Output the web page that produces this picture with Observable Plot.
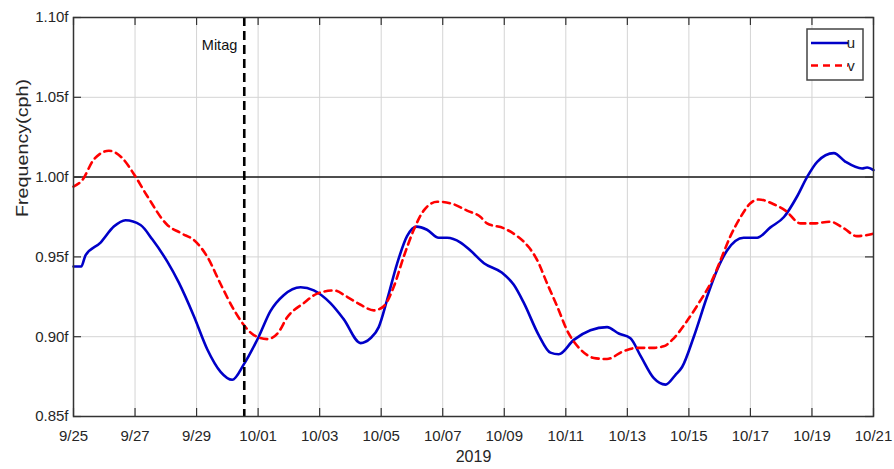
<!DOCTYPE html>
<html>
<head>
<meta charset="utf-8">
<script src="https://cdn.jsdelivr.net/npm/d3@7"></script>
<script src="https://cdn.jsdelivr.net/npm/@observablehq/plot@0.6"></script>
<style>
  html, body { margin: 0; padding: 0; background: #fff; }
  #chart { position: relative; width: 894px; height: 469px; }
</style>
</head>
<body>
<div id="chart"></div>
<script>
// Days since 2019-09-25 00:00 and frequency (in units of f)
const uDay = [0, 0.25, 0.39, 0.88, 1.31, 1.69, 2.18, 2.56, 3.05, 3.42, 3.91, 4.35, 4.78, 5.16, 5.53, 6.02, 6.40, 6.83, 7.38, 7.81, 8.35, 8.78, 9.33, 9.65, 9.92, 10.19, 10.52, 10.84, 11.15, 11.49, 11.87, 12.14, 12.58, 12.90, 13.34, 13.93, 14.31, 14.64, 15.12, 15.50, 15.77, 16.26, 16.80, 17.34, 17.72, 18.10, 18.43, 18.86, 19.24, 19.56, 19.78, 20.16, 20.59, 20.92, 21.24, 21.78, 22.22, 22.65, 23.09, 23.52, 23.84, 24.17, 24.71, 25.09, 25.63, 25.79, 26.0];
const uVal = [0.944, 0.944, 0.951, 0.959, 0.969, 0.973, 0.970, 0.961, 0.947, 0.934, 0.913, 0.892, 0.878, 0.873, 0.8825, 0.900, 0.916, 0.926, 0.931, 0.929, 0.921, 0.911, 0.896, 0.899, 0.906, 0.923, 0.946, 0.963, 0.969, 0.967, 0.962, 0.962, 0.959, 0.954, 0.946, 0.940, 0.9325, 0.921, 0.901, 0.890, 0.889, 0.898, 0.904, 0.906, 0.902, 0.899, 0.888, 0.874, 0.870, 0.876, 0.881, 0.900, 0.925, 0.942, 0.954, 0.962, 0.962, 0.9685, 0.975, 0.988, 1.000, 1.0096, 1.015, 1.0096, 1.0054, 1.006, 1.0044];
const vDay = [0, 0.28, 0.66, 1.15, 1.58, 1.96, 2.40, 3.05, 3.48, 3.97, 4.35, 4.78, 5.21, 5.53, 5.86, 6.30, 6.67, 6.94, 7.48, 7.92, 8.46, 8.89, 9.33, 9.76, 10.08, 10.41, 10.73, 11.06, 11.38, 11.82, 12.25, 12.79, 13.23, 13.44, 13.98, 14.42, 14.80, 15.07, 15.40, 15.72, 16.04, 16.48, 16.91, 17.34, 17.88, 18.32, 18.81, 19.18, 19.51, 19.89, 20.32, 20.76, 21.03, 21.35, 21.68, 22.00, 22.27, 22.76, 23.14, 23.63, 24.06, 24.60, 25.03, 25.46, 25.96];
const vVal = [0.994, 0.998, 1.011, 1.0165, 1.012, 1.002, 0.988, 0.970, 0.965, 0.9596, 0.950, 0.933, 0.917, 0.9075, 0.901, 0.8985, 0.903, 0.912, 0.921, 0.927, 0.929, 0.925, 0.920, 0.9165, 0.919, 0.9314, 0.950, 0.967, 0.979, 0.9846, 0.9836, 0.979, 0.975, 0.971, 0.968, 0.963, 0.956, 0.948, 0.933, 0.919, 0.904, 0.892, 0.8867, 0.886, 0.891, 0.893, 0.893, 0.894, 0.899, 0.9085, 0.921, 0.9356, 0.948, 0.963, 0.975, 0.9836, 0.986, 0.983, 0.979, 0.971, 0.971, 0.972, 0.968, 0.963, 0.9644];

const mitagDay = 5.55;
const xTicks = [0, 2, 4, 6, 8, 10, 12, 14, 16, 18, 20, 22, 24, 26];
const xTickLabels = ["9/25", "9/27", "9/29", "10/01", "10/03", "10/05", "10/07", "10/09", "10/11", "10/13", "10/15", "10/17", "10/19", "10/21"];
const yTicks = [0.85, 0.90, 0.95, 1.00, 1.05, 1.10];
const yTickLabels = ["0.85f", "0.90f", "0.95f", "1.00f", "1.05f", "1.10f"];
const seriesNames = ["u", "v"];

const uData = uDay.map((d, i) => ({day: d, val: uVal[i]}));
const vData = vDay.map((d, i) => ({day: d, val: vVal[i]}));

const blue = "#0000c8";
const red = "#ff0000";
const txt = "#262626";
const font = "'Liberation Sans', Arial, sans-serif";

const plot = Plot.plot({
  width: 894,
  height: 469,
  marginLeft: 73,
  marginRight: 21,
  marginTop: 17,
  marginBottom: 53,
  style: {fontFamily: font, fontSize: "14.5px", background: "#fff", color: txt},
  x: {type: "linear", domain: [0, 26]},
  y: {type: "linear", domain: [0.85, 1.10]},
  marks: [
    Plot.gridX(xTicks, {stroke: "#d4d4d4", strokeOpacity: 1, strokeWidth: 1}),
    Plot.gridY(yTicks, {stroke: "#d4d4d4", strokeOpacity: 1, strokeWidth: 1}),
    Plot.ruleY([1.00], {stroke: "#1a1a1a", strokeWidth: 1.5}),
    // inward ticks (MATLAB box style)
    Plot.tickX(xTicks, {x: d => d, insetTop: 391, stroke: "#333", strokeWidth: 1.2}),
    Plot.tickX(xTicks, {x: d => d, insetBottom: 391, stroke: "#333", strokeWidth: 1.2}),
    Plot.tickY(yTicks, {y: d => d, insetRight: 792, stroke: "#333", strokeWidth: 1.2}),
    Plot.tickY(yTicks, {y: d => d, insetLeft: 792, stroke: "#333", strokeWidth: 1.2}),
    Plot.line(uData, {x: "day", y: "val", stroke: blue, strokeWidth: 2.6, curve: "monotone-x"}),
    Plot.line(vData, {x: "day", y: "val", stroke: red, strokeWidth: 2.6, strokeDasharray: "7,5", curve: "monotone-x"}),
    Plot.ruleX([mitagDay], {stroke: "#000", strokeWidth: 2.6, strokeDasharray: "9,5"}),
    Plot.text([mitagDay], {x: d => d, frameAnchor: "top", text: () => "Mitag", textAnchor: "end", dx: -7, dy: 22, fill: "#111", fontSize: 14.5}),
    Plot.frame({stroke: "#333", strokeWidth: 1.5}),
    Plot.axisX(xTicks, {tickSize: 0, tickPadding: 14, tickFormat: d => xTickLabels[xTicks.indexOf(d)], fill: txt, fontSize: 15, label: null}),
    Plot.axisY(yTicks, {tickSize: 0, tickPadding: 5, tickFormat: d => yTickLabels[yTicks.indexOf(d)], fill: txt, fontSize: 15, label: null}),
    Plot.text(["2019"], {frameAnchor: "bottom", dy: 45, text: d => d, fill: txt, fontSize: 16}),
    Plot.text(["Frequency(cph)"], {frameAnchor: "left", dx: -51, rotate: -90, text: d => d, fill: txt, fontSize: 16.5, className: "ylab"})
  ]
});

document.getElementById("chart").appendChild(plot);

const svg = d3.select(plot);
// stretch y label to match reference
svg.selectAll(".ylab text").attr("textLength", 138).attr("lengthAdjust", "spacingAndGlyphs");

// Legend (inside the plot, top-right)
const lg = svg.append("g").attr("transform", "translate(807,29)");
lg.append("rect").attr("width", 56).attr("height", 51).attr("fill", "#fff").attr("stroke", "#444").attr("stroke-width", 1.5);
const entries = [
  {name: seriesNames[0], color: blue, dash: null},
  {name: seriesNames[1], color: red, dash: "7,5"}
];
entries.forEach((e, i) => {
  const y = 14 + i * 22.5;
  lg.append("line").attr("x1", 4).attr("x2", 41).attr("y1", y).attr("y2", y)
    .attr("stroke", e.color).attr("stroke-width", 2.6).attr("stroke-dasharray", e.dash);
  lg.append("text").attr("x", 44).attr("y", y).attr("dy", "0.35em")
    .attr("font-size", 15).attr("fill", txt).attr("font-family", font).text(e.name);
});
</script>
</body>
</html>
